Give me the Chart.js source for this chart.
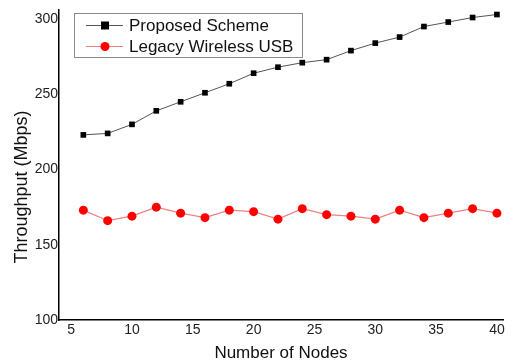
<!DOCTYPE html>
<html>
<head>
<meta charset="utf-8">
<script src="https://cdn.jsdelivr.net/npm/chart.js@4"></script>
<style>
html,body{margin:0;padding:0;background:#fff;}
#wrap{width:513px;height:364px;position:relative;}
</style>
</head>
<body>
<div id="wrap"><canvas id="c" width="513" height="364"></canvas></div>
<script>
const nodes = [6, 8, 10, 12, 14, 16, 18, 20, 22, 24, 26, 28, 30, 32, 34, 36, 38, 40];
const proposed = [223, 224, 230, 239, 245, 251, 257, 264, 268, 271, 273, 279, 284, 288, 295, 298, 301, 303];
const legacy = [173, 166, 169, 175, 171, 168, 173, 172, 167, 174, 170, 169, 167, 173, 168, 171, 174, 171];
const xTicks = [5, 10, 15, 20, 25, 30, 35, 40];
const yTicks = [100, 150, 200, 250, 300];
const seriesNames = ['Proposed Scheme', 'Legacy Wireless USB'];
const xTitle = 'Number of Nodes';
const yTitle = 'Throughput (Mbps)';

const FONT = '"Liberation Sans", Arial, sans-serif';

const legendPlugin = {
  id: 'boxLegend',
  afterDraw(chart) {
    const ctx = chart.ctx;
    ctx.save();
    // box
    ctx.strokeStyle = '#8a8a8a';
    ctx.lineWidth = 1;
    ctx.strokeRect(74.5, 13.5, 228, 44);
    const rows = [
      {y: 25.5, line: '#555555', fill: '#000000', style: 'rect', name: seriesNames[0]},
      {y: 46.5, line: '#f08080', fill: '#ff0000', style: 'circle', name: seriesNames[1]}
    ];
    rows.forEach(r => {
      ctx.strokeStyle = r.line;
      ctx.lineWidth = 1;
      ctx.beginPath();
      ctx.moveTo(86, r.y);
      ctx.lineTo(123, r.y);
      ctx.stroke();
      ctx.fillStyle = r.fill;
      if (r.style === 'rect') {
        ctx.fillRect(101, r.y - 4, 8, 8);
      } else {
        ctx.beginPath();
        ctx.arc(105, r.y, 4.5, 0, Math.PI * 2);
        ctx.fill();
      }
      ctx.fillStyle = '#111';
      ctx.font = '17px ' + FONT;
      ctx.textBaseline = 'middle';
      ctx.textAlign = 'left';
      ctx.fillText(r.name, 129, r.y + 1);
    });
    // y axis title
    ctx.translate(22, 187);
    ctx.rotate(-Math.PI / 2);
    ctx.textAlign = 'center';
    ctx.textBaseline = 'middle';
    ctx.font = '18px ' + FONT;
    ctx.fillStyle = '#111';
    ctx.fillText(yTitle, 0, 0);
    ctx.restore();
  }
};

new Chart(document.getElementById('c'), {
  type: 'line',
  data: {
    datasets: [
      {
        label: seriesNames[0],
        data: nodes.map((x, i) => ({x: x, y: proposed[i]})),
        borderColor: '#555555',
        borderWidth: 1,
        backgroundColor: '#000000',
        pointStyle: 'rect',
        pointRadius: 4,
        pointBorderWidth: 0,
        pointBackgroundColor: '#000000',
        tension: 0
      },
      {
        label: seriesNames[1],
        data: nodes.map((x, i) => ({x: x, y: legacy[i]})),
        borderColor: '#f08080',
        borderWidth: 1.2,
        backgroundColor: '#ff0000',
        pointStyle: 'circle',
        pointRadius: 4.5,
        pointBorderWidth: 0,
        pointBackgroundColor: '#ff0000',
        tension: 0
      }
    ]
  },
  options: {
    responsive: false,
    animation: false,
    devicePixelRatio: 1,
    layout: {padding: {top: 10, right: 10, left: 0, bottom: 0}},
    plugins: {
      legend: {display: false},
      tooltip: {enabled: false}
    },
    scales: {
      x: {
        type: 'linear',
        min: 4,
        max: 40.5,
        afterBuildTicks: s => { s.ticks = xTicks.map(v => ({value: v})); },
        afterFit: s => { s.height = 44; },
        grid: {display: false, drawTicks: false},
        border: {display: true, color: '#000', width: 1.5},
        ticks: {color: '#222', font: {family: FONT, size: 14}, padding: 2, maxRotation: 0},
        title: {display: true, text: xTitle, color: '#111', font: {family: FONT, size: 17}, padding: {top: 2, bottom: 0}}
      },
      y: {
        type: 'linear',
        min: 100,
        max: 306,
        afterBuildTicks: s => { s.ticks = yTicks.map(v => ({value: v})); },
        afterFit: s => { s.width = 59; },
        grid: {display: false, drawTicks: false},
        border: {display: true, color: '#000', width: 1.5},
        ticks: {color: '#222', font: {family: FONT, size: 14}, padding: 1}
      }
    }
  },
  plugins: [legendPlugin]
});
</script>
</body>
</html>
